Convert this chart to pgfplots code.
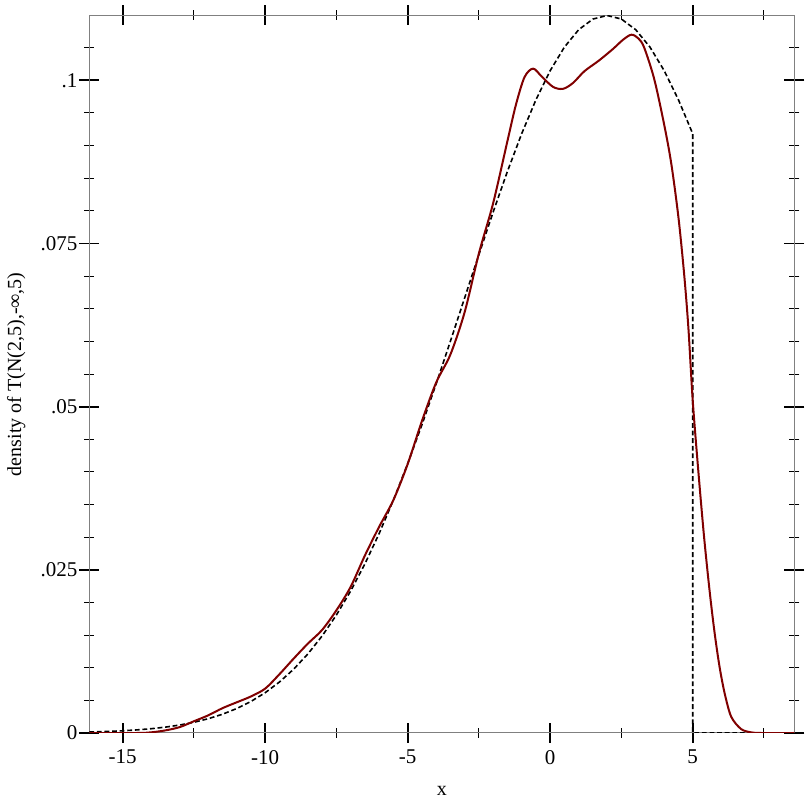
\documentclass[border=0pt]{standalone}
\usepackage{fontspec}
\setmainfont{Liberation Serif}
\usepackage{pgfplots}
\pgfplotsset{compat=1.18}
\definecolor{darkred}{RGB}{128,0,0}
\definecolor{axisgray}{RGB}{128,128,128}
\begin{document}
\begin{tikzpicture}
\begin{axis}[
 scale only axis, width=352.5pt, height=358.75pt,
 xmin=-16.17, xmax=8.565, ymin=0, ymax=0.10994,
 axis line style={axisgray, line width=0.5pt},
 tick align=center,
 xtick={-15,-10,-5,0,5}, xticklabels={-15,-10,-5,0,5},
 minor xtick={-12.5,-7.5,-2.5,2.5,7.5},
 ytick={0,0.025,0.05,0.075,0.1}, yticklabels={0,.025,.05,.075,.1},
 minor ytick={0.005,0.01,0.015,0.02,0.03,0.035,0.04,0.045,0.055,0.06,0.065,0.07,0.08,0.085,0.09,0.095,0.105},
 major tick length=10pt, minor tick length=5pt,
 every major tick/.append style={black, line width=0.9pt},
 every minor tick/.append style={black, line width=0.5pt},
 tick label style={font=\fontsize{10.5}{12}\selectfont},
 xticklabel style={inner sep=0pt, anchor=north, yshift=-3.35pt},
 yticklabel style={inner sep=0pt, anchor=east, xshift=-0.75pt},
 xlabel={x}, ylabel={density of T(N(2,5),-∞,5)},
 label style={font=\fontsize{11}{13}\selectfont},
 every axis x label/.style={at={(axis description cs:0.5,-0.0808)}, anchor=center},
 every axis y label/.style={at={(axis description cs:-0.1036,0.5)}, rotate=90, anchor=center},
 scaled y ticks=false,
]
% truncated normal density (dashed)
\addplot[black, line width=0.8pt, dash pattern=on 2.4pt off 1.4pt] coordinates {
(-16.17,0.000150) (-16,0.000169) (-15.5,0.000241) (-15,0.000340) (-14.5,0.000475) (-14,0.000657)
(-13.5,0.000900) (-13,0.001221) (-12.5,0.001640) (-12,0.002181) (-11.5,0.002872) (-11,0.003743)
(-10.5,0.004830) (-10,0.006172) (-9.5,0.007806) (-9,0.009776) (-8.5,0.012121) (-8,0.014879)
(-7.5,0.018082) (-7,0.021757) (-6.5,0.025918) (-6,0.030568) (-5.5,0.035692) (-5,0.041262)
(-4.5,0.047226) (-4,0.053514) (-3.5,0.060035) (-3,0.066682) (-2.5,0.073327) (-2,0.079833)
(-1.5,0.086051) (-1,0.091830) (-0.5,0.097021) (0,0.101488) (0.5,0.105102) (1,0.107763)
(1.5,0.109392) (2,0.109940) (2.5,0.109392) (3,0.107763) (3.5,0.105102) (4,0.101488)
(4.5,0.097021) (5,0.091830) (5,0) (8.565,0)
};
% kernel density estimate (red)
\addplot[darkred, line width=1pt, smooth, tension=0.5] coordinates {
(-16.17,0) (-14.5,0) (-14,0.0001) (-13.5,0.0004) (-13,0.0009) (-12.5,0.0018) (-12,0.0027)
(-11.5,0.0038) (-11,0.0047) (-10.5,0.0056) (-10,0.0068) (-9.5,0.0090) (-9,0.0114)
(-8.5,0.0137) (-8,0.0158) (-7.5,0.0188) (-7,0.0224) (-6.5,0.0272) (-6,0.0316)
(-5.5,0.0357) (-5,0.0412) (-4.5,0.0478) (-4,0.0537) (-3.5,0.0580) (-3,0.0645)
(-2.5,0.0735) (-2,0.0812) (-1.5,0.0907) (-1.2,0.0963) (-0.9,0.1005) (-0.6,0.1018)
(-0.3,0.1006) (0.1,0.0990) (0.45,0.0987) (0.8,0.0996) (1.2,0.1014) (1.7,0.1030)
(2.2,0.1048) (2.55,0.1062) (2.85,0.1070) (3.1,0.1064) (3.3,0.1050) (3.65,0.1002)
(4.0,0.0932) (4.25,0.0872) (4.5,0.0790) (4.7,0.0703) (4.85,0.0620) (5.0,0.0510)
(5.2,0.0400) (5.4,0.0300) (5.6,0.0215) (5.77,0.0153) (5.94,0.0102) (6.12,0.0061)
(6.35,0.0025) (6.7,0.0006) (7.05,0.0001) (7.4,0) (8.565,0)
};
\end{axis}
\pgfresetboundingbox
\path[use as bounding box] ([xshift=-44.65pt,yshift=-39.5pt]current axis.south west) rectangle ([xshift=8.85pt,yshift=7.75pt]current axis.north east);
\end{tikzpicture}
\end{document}
